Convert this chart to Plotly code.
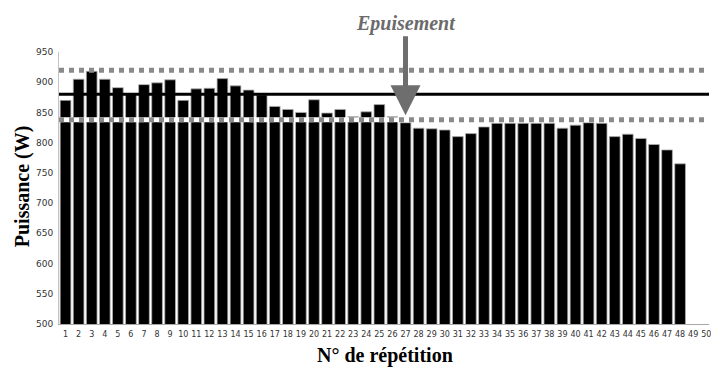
import plotly.graph_objects as go

# ---- data ----
repetitions = list(range(1, 49))
puissance = [870, 905, 918, 905, 891, 880, 896, 899, 904, 870,
             889, 890, 906, 894, 887, 879, 860, 855, 850, 871,
             849, 855, 843, 851, 863, 843, 833, 824, 823, 821,
             810, 815, 826, 832, 832, 832, 832, 832, 824, 829,
             833, 832, 810, 814, 807, 797, 788, 765]
tick_values = list(range(1, 51))
tick_labels = [str(v) for v in tick_values]
y_ticks = list(range(500, 951, 50))
upper_limit = 920
mean_power = 880
lower_limit = 838
exhaustion_rep = 27
exhaustion_tip = 845.5

fig = go.Figure()
fig.add_trace(go.Bar(
    x=repetitions, y=puissance,
    marker=dict(color="black", line=dict(color="#b0b0b0", width=0.8)),
    hoverinfo="x+y",
))

shapes = [
    dict(type="line", xref="paper", yref="y", x0=0, x1=1, y0=lower_limit, y1=lower_limit,
         line=dict(color="white", width=5), layer="above"),
    dict(type="line", xref="paper", yref="y", x0=0, x1=1, y0=lower_limit, y1=lower_limit,
         line=dict(color="#8a8a8a", width=5, dash="5px,5px"), layer="above"),
    dict(type="line", xref="paper", yref="y", x0=0, x1=1, y0=upper_limit, y1=upper_limit,
         line=dict(color="#8a8a8a", width=5, dash="5px,5px"), layer="above"),
    dict(type="line", xref="paper", yref="y", x0=0, x1=1, y0=mean_power, y1=mean_power,
         line=dict(color="black", width=3), layer="above"),
]

annotations = [
    dict(x=exhaustion_rep, y=exhaustion_tip, xref="x", yref="y",
         text="<b><i>Epuisement</i></b>", showarrow=True,
         ax=0, ay=-92, arrowhead=2, arrowsize=1.2, arrowwidth=5,
         arrowcolor="#6e6e6e",
         font=dict(family="Liberation Serif", size=20, color="#6b6b6b")),
    dict(x=0.5015, y=-0.114, xref="paper", yref="paper",
         text="<b>N° de répétition</b>", showarrow=False,
         xanchor="center", yanchor="middle",
         font=dict(family="Liberation Serif", size=20, color="black")),
    dict(x=-0.0567, y=0.507, xref="paper", yref="paper",
         text="<b>Puissance (W)</b>", showarrow=False, textangle=-90,
         xanchor="center", yanchor="middle",
         font=dict(family="Liberation Serif", size=20, color="black")),
]

fig.update_layout(
    width=711, height=367,
    margin=dict(l=59, r=0, t=52, b=43),
    paper_bgcolor="white", plot_bgcolor="white",
    bargap=0.18,
    showlegend=False,
    shapes=shapes,
    annotations=annotations,
    xaxis=dict(
        range=[0.5, 50.21],
        tickmode="array", tickvals=tick_values, ticktext=tick_labels,
        tickangle=0, ticklabeloverflow="allow",
        showgrid=False, zeroline=False,
        showline=True, linecolor="#a8a8a8", linewidth=1,
        ticks="outside", ticklen=2, tickcolor="rgba(0,0,0,0)",
        tickfont=dict(family="DejaVu Sans", size=8, color="#333333"),
    ),
    yaxis=dict(
        range=[500, 950],
        tickmode="array", tickvals=y_ticks,
        showgrid=False, zeroline=False,
        showline=True, linecolor="#c4c4c4", linewidth=1,
        ticks="outside", ticklen=3, tickcolor="rgba(0,0,0,0)",
        tickfont=dict(family="DejaVu Sans", size=9, color="#333333"),
    ),
)

fig.write_html("out.html", config={"displayModeBar": False},
               post_script="document.body.style.margin='0px';")
